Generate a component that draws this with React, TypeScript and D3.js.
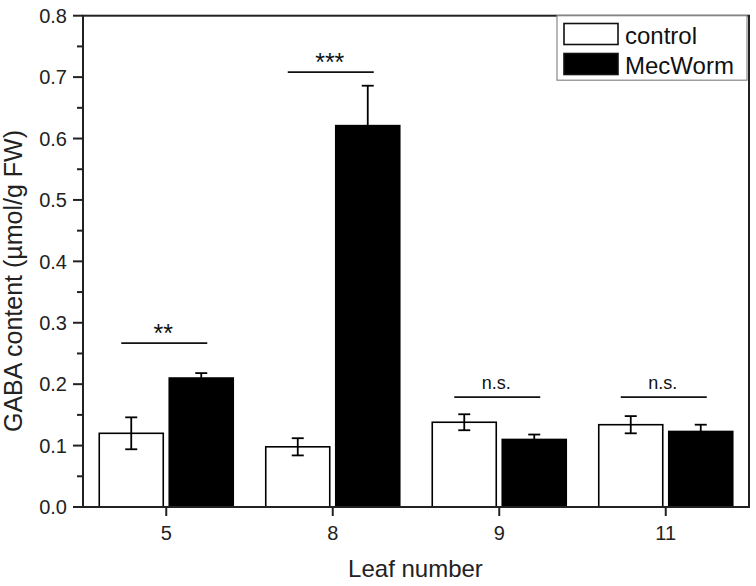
import React, { useRef, useEffect } from "react";
import * as d3 from "d3";

// leaf numbers on the x axis
const leaves = ["5", "8", "9", "11"];
const series = ["control", "MecWorm"];
const controlMean = [0.12, 0.098, 0.138, 0.134];
const controlErr = [0.026, 0.014, 0.013, 0.014];
const wormMean = [0.21, 0.621, 0.11, 0.123];
const wormErr = [0.008, 0.065, 0.008, 0.011];
const sigLabels = ["**", "***", "n.s.", "n.s."];
const sigLevel = [0.267, 0.708, 0.179, 0.179];
const yTicks = [0, 0.1, 0.2, 0.3, 0.4, 0.5, 0.6, 0.7, 0.8];

const W = 756;
const H = 586;
const FONT = "'Liberation Sans', Arial, sans-serif";

const App = () => {
  const ref = useRef<SVGSVGElement | null>(null);

  useEffect(() => {
    const svg = d3.select(ref.current);
    svg.selectAll("*").remove();

    const left = 83, right = 749, top = 15.7, bottom = 507;

    const x = d3.scaleBand().domain(leaves).range([left, right]).padding(0);
    const xIn = d3.scaleBand().domain(series).range([-67, 67]).paddingInner(6 / 70);
    const y = d3.scaleLinear().domain([0, 0.8]).range([bottom, top]);

    const g = svg.append("g");

    // bars + error bars
    const groups = [
      { name: "control", mean: controlMean, err: controlErr, fill: "#fff" },
      { name: "MecWorm", mean: wormMean, err: wormErr, fill: "#000" },
    ];
    groups.forEach((s) => {
      leaves.forEach((lf, i) => {
        const cx = x(lf)! + x.bandwidth() / 2;
        const bx = cx + xIn(s.name)!;
        const bw = xIn.bandwidth();
        g.append("rect")
          .attr("x", bx)
          .attr("y", y(s.mean[i]))
          .attr("width", bw)
          .attr("height", y(0) - y(s.mean[i]))
          .attr("fill", s.fill)
          .attr("stroke", "#000")
          .attr("stroke-width", 1.6);
        const mx = bx + bw / 2;
        const hi = y(s.mean[i] + s.err[i]);
        const lo = y(s.mean[i] - s.err[i]);
        g.append("line").attr("x1", mx).attr("x2", mx).attr("y1", hi).attr("y2", lo)
          .attr("stroke", "#000").attr("stroke-width", 1.8);
        [hi, lo].forEach((yy) => {
          g.append("line").attr("x1", mx - 6).attr("x2", mx + 6).attr("y1", yy).attr("y2", yy)
            .attr("stroke", "#000").attr("stroke-width", 1.8);
        });
      });
    });

    // significance bars
    leaves.forEach((lf, i) => {
      const cx = x(lf)! + x.bandwidth() / 2;
      const ly = y(sigLevel[i]);
      g.append("line").attr("x1", cx - 45).attr("x2", cx + 41).attr("y1", ly).attr("y2", ly)
        .attr("stroke", "#111").attr("stroke-width", 1.8);
      const isStar = sigLabels[i].startsWith("*");
      g.append("text")
        .attr("x", cx - 3)
        .attr("y", isStar ? ly - 1 : ly - 8.5)
        .attr("text-anchor", "middle")
        .attr("font-family", FONT)
        .attr("font-size", isStar ? 25 : 18)
        .attr("fill", "#111")
        .text(sigLabels[i]);
    });

    // frame
    g.append("rect")
      .attr("x", left).attr("y", top)
      .attr("width", right - left).attr("height", bottom - top)
      .attr("fill", "none").attr("stroke", "#222").attr("stroke-width", 2);

    // y axis ticks
    yTicks.forEach((t) => {
      g.append("line").attr("x1", left - 10).attr("x2", left).attr("y1", y(t)).attr("y2", y(t))
        .attr("stroke", "#222").attr("stroke-width", 2);
      g.append("text")
        .attr("x", left - 16).attr("y", y(t)).attr("dy", "0.36em")
        .attr("text-anchor", "end")
        .attr("font-family", FONT).attr("font-size", 20).attr("fill", "#222")
        .text(d3.format(".1f")(t));
    });
    d3.range(0.05, 0.8, 0.1).forEach((t) => {
      g.append("line").attr("x1", left - 6).attr("x2", left).attr("y1", y(t)).attr("y2", y(t))
        .attr("stroke", "#222").attr("stroke-width", 2);
    });

    // x axis ticks
    leaves.forEach((lf) => {
      const cx = x(lf)! + x.bandwidth() / 2;
      g.append("line").attr("x1", cx).attr("x2", cx).attr("y1", bottom).attr("y2", bottom + 9)
        .attr("stroke", "#222").attr("stroke-width", 2);
      g.append("text")
        .attr("x", cx).attr("y", 540)
        .attr("text-anchor", "middle")
        .attr("font-family", FONT).attr("font-size", 20).attr("fill", "#222")
        .text(lf);
    });

    // axis titles
    g.append("text")
      .attr("x", (left + right) / 2 - 0.5).attr("y", 577)
      .attr("text-anchor", "middle")
      .attr("font-family", FONT).attr("font-size", 24).attr("fill", "#222")
      .text("Leaf number");
    g.append("text")
      .attr("transform", `translate(22, 281) rotate(-90)`)
      .attr("text-anchor", "middle")
      .attr("font-family", FONT).attr("font-size", 25).attr("fill", "#222")
      .text("GABA content (µmol/g FW)");

    // legend
    const lg = g.append("g");
    lg.append("rect").attr("x", 557).attr("y", 15.7).attr("width", 190).attr("height", 64.5)
      .attr("fill", "#fff").attr("stroke", "#888").attr("stroke-width", 1.2);
    series.forEach((s, i) => {
      const yy = 23.5 + i * 30;
      lg.append("rect").attr("x", 564).attr("y", yy).attr("width", 54).attr("height", 21)
        .attr("fill", i === 0 ? "#fff" : "#000").attr("stroke", "#111").attr("stroke-width", 1.6);
      lg.append("text").attr("x", 625).attr("y", yy + 20)
        .attr("font-family", FONT).attr("font-size", 24).attr("fill", "#111")
        .text(s);
    });
  }, []);

  return (
    <div style={{ position: "absolute", left: 0, top: 0 }}>
      <svg ref={ref} width={W} height={H} style={{ display: "block", background: "#fff" }} />
    </div>
  );
};

export default App;
